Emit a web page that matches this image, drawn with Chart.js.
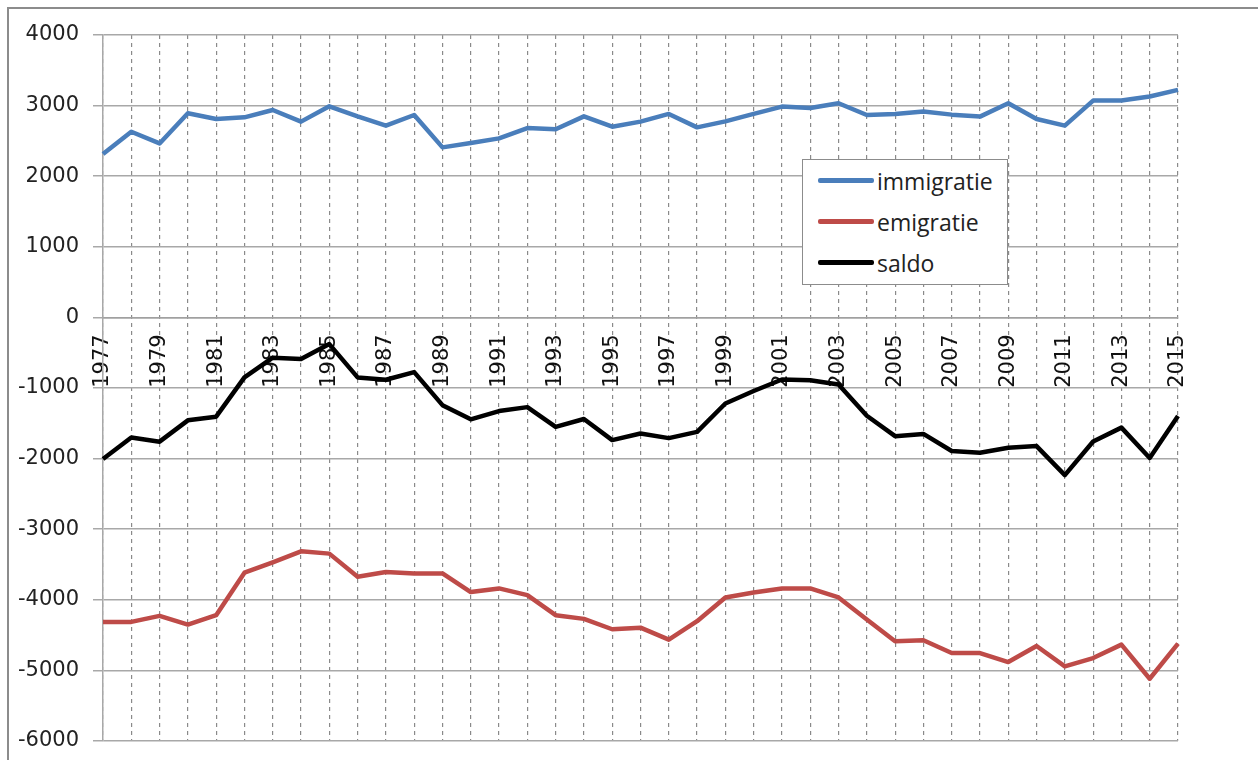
<!DOCTYPE html>
<html>
<head>
<meta charset="utf-8">
<script src="https://cdn.jsdelivr.net/npm/chart.js@4"></script>
<style>
  body { margin: 0; background: #fff; overflow: hidden; }
  #wrap { position: relative; width: 1258px; height: 760px; }
  #frame { position: absolute; left: 7px; top: 7px; width: 1400px; height: 900px; border-left: 2px solid #8c8c8c; border-top: 2px solid #8c8c8c; }
  #legend { position: absolute; left: 802px; top: 159px; width: 204px; height: 124px; background: #fff; border: 1px solid #8c8c8c; font-family: "Open Sans", sans-serif; font-size: 23px; color: #222; }
  #legend div { display: flex; align-items: center; height: 41px; padding-left: 15px; }
  #legend span.swatch { display: inline-block; width: 56px; height: 5px; border-radius: 2px; margin-right: 3px; }
</style>
</head>
<body>
<div id="wrap">
  <canvas id="chart" width="1258" height="760"></canvas>
  <div id="frame"></div>
  <div id="legend"></div>
</div>
<script>
document.addEventListener("DOMContentLoaded", function () {
  const years = [];
  for (let y = 1977; y <= 2015; y++) years.push(String(y));

  const immigratie = [2313, 2630, 2464, 2891, 2810, 2834, 2938, 2773, 2990, 2848,
    2716, 2867, 2408, 2469, 2536, 2682, 2664, 2848, 2701, 2773,
    2882, 2692, 2777, 2882, 2986, 2967, 3033, 2867, 2882, 2915,
    2872, 2844, 3033, 2810, 2716, 3071, 3071, 3128, 3223];
  const emigratie = [-4313, -4313, -4227, -4351, -4218, -3616, -3469, -3313, -3346, -3673,
    -3607, -3626, -3626, -3891, -3839, -3934, -4218, -4270, -4417, -4395,
    -4564, -4303, -3967, -3896, -3839, -3839, -3967, -4280, -4588, -4573,
    -4754, -4754, -4882, -4654, -4943, -4825, -4635, -5118, -4621];
  const saldo = [-2005, -1700, -1760, -1458, -1406, -850, -570, -590, -378, -850,
    -883, -775, -1243, -1444, -1327, -1271, -1551, -1439, -1738, -1645,
    -1710, -1621, -1220, -1043, -880, -890, -950, -1393, -1682, -1650,
    -1893, -1916, -1846, -1823, -2234, -1757, -1561, -1991, -1397];
  const yTicks = [4000, 3000, 2000, 1000, 0, -1000, -2000, -3000, -4000, -5000, -6000];

  const series = [
    { label: "immigratie", data: immigratie, color: "#4a7ebb" },
    { label: "emigratie", data: emigratie, color: "#be4b48" },
    { label: "saldo", data: saldo, color: "#000000" },
  ];

  const tickFont = "'DejaVu Sans', Verdana, sans-serif";

  const ctx = document.getElementById("chart").getContext("2d");
  const chart = new Chart(ctx, {
    type: "line",
    data: {
      labels: years,
      datasets: series.map((s) => ({
        label: s.label,
        data: s.data,
        borderColor: s.color,
        backgroundColor: s.color,
        borderWidth: 4.5,
        pointRadius: 0,
        fill: false,
        tension: 0,
        borderJoinStyle: "round",
      })),
    },
    options: {
      responsive: false,
      animation: false,
      layout: { padding: { left: 0, top: 35, right: 80, bottom: 19 } },
      plugins: { legend: { display: false }, tooltip: { enabled: false } },
      scales: {
        x: {
          type: "category",
          position: { y: 0 },
          offset: false,
          grid: {
            color: "#8a8a8a",
            lineWidth: 1.2,
            drawTicks: false,
          },
          // in v4 border.dash also dashes the grid lines
          border: { display: true, color: "#a0a0a0", width: 1.5, dash: [4, 4] },
          ticks: {
            autoSkip: false,
            maxRotation: 90,
            minRotation: 90,
            padding: 17,
            color: "#111",
            font: { family: tickFont, size: 21 },
            callback: function (value, index) {
              return index % 2 === 0 ? years[index] : "";
            },
          },
        },
        y: {
          min: -6000,
          max: 4000,
          afterFit: function (scale) {
            scale.width = 103;
            scale.paddingTop = 0;
            scale.paddingBottom = 0;
          },
          afterBuildTicks: function (scale) {
            scale.ticks = yTicks.map((v) => ({ value: v }));
          },
          grid: { color: "#a8a8a8", lineWidth: 1.5, tickLength: 10 },
          border: { display: true, color: "#a8a8a8", width: 1.5 },
          ticks: {
            padding: 14,
            color: "#222",
            font: { family: tickFont, size: 21 },
            callback: function (value) { return String(value); },
          },
        },
      },
    },
  });

  const legend = document.getElementById("legend");
  chart.data.datasets.forEach(function (ds) {
    const row = document.createElement("div");
    const sw = document.createElement("span");
    sw.className = "swatch";
    sw.style.background = ds.borderColor;
    row.appendChild(sw);
    row.appendChild(document.createTextNode(ds.label));
    legend.appendChild(row);
  });
});
</script>
</body>
</html>
